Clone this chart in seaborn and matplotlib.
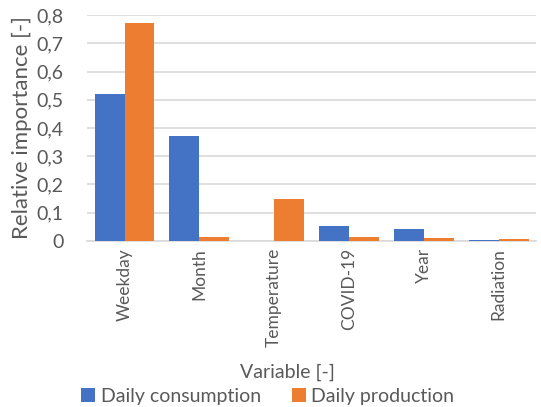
import pandas as pd
import matplotlib.pyplot as plt
import seaborn as sns

# data
variables = ["Weekday", "Month", "Temperature", "COVID-19", "Year", "Radiation"]
consumption = [0.521, 0.373, 0.001, 0.052, 0.041, 0.004]
production = [0.773, 0.015, 0.149, 0.013, 0.012, 0.008]
series_names = ["Daily consumption", "Daily production"]
y_ticks = [0, 0.1, 0.2, 0.3, 0.4, 0.5, 0.6, 0.7, 0.8]
y_tick_labels = ["0", "0,1", "0,2", "0,3", "0,4", "0,5", "0,6", "0,7", "0,8"]

df = pd.DataFrame({
    "Variable": variables * 2,
    "Series": [series_names[0]] * len(variables) + [series_names[1]] * len(variables),
    "Importance": consumption + production,
})

sns.set_theme(style="white")
plt.rcParams["font.family"] = ["Lato", "DejaVu Sans"]
text_col = "#595959"
grid_col = "#D9D9D9"

fig = plt.figure(figsize=(5.41, 4.07), dpi=100)
ax = fig.add_axes([0.161, 0.408, 0.83, 0.555])

sns.barplot(data=df, x="Variable", y="Importance", hue="Series",
            palette=["#4472C4", "#ED7D31"], width=0.8, linewidth=0,
            saturation=1, ax=ax, zorder=3)

ax.set_ylim(0, 0.8)
ax.set_xlim(-0.5, len(variables) - 0.5)
ax.set_yticks(y_ticks)
ax.set_yticklabels(y_tick_labels)
ax.yaxis.grid(True, color=grid_col, linewidth=1.2, zorder=0)
ax.set_axisbelow(True)
for side in ["top", "right", "left"]:
    ax.spines[side].set_visible(False)
ax.spines["bottom"].set_color(grid_col)
ax.spines["bottom"].set_linewidth(1.2)
ax.tick_params(axis="both", length=0, colors=text_col)
ax.tick_params(axis="x", labelrotation=90, labelsize=12.5, pad=5)
ax.tick_params(axis="y", labelsize=14, pad=17)

ax.set_ylabel("Relative importance [-]", fontsize=16, color=text_col, labelpad=3)
ax.set_xlabel("")
fig.text(0.532, 0.085, "Variable [-]", ha="center", va="center", fontsize=14, color=text_col)

handles, labels = ax.get_legend_handles_labels()
ax.get_legend().remove()
fig.legend(handles, labels, loc="center", bbox_to_anchor=(0.495, 0.027), ncol=2,
           frameon=False, fontsize=14, handlelength=0.7, handleheight=0.7,
           handletextpad=0.3, columnspacing=1.6, labelcolor=text_col)

fig.savefig("out.png", dpi=100)
